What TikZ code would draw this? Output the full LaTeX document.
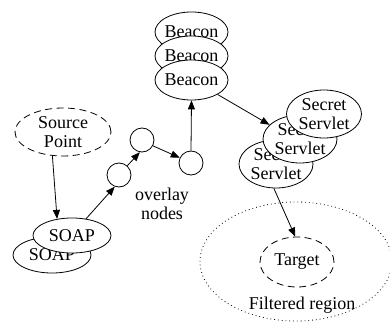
\documentclass[tikz,border=0pt]{standalone}
\usepackage{fontspec}
\setmainfont{Liberation Serif}
\usetikzlibrary{shapes.geometric,arrows.meta}
\begin{document}
\begin{tikzpicture}[x=1pt,y=-1pt,
  every node/.style={font=\fontsize{18}{19}\selectfont, align=center},
  ell/.style={ellipse, draw, fill=white, line width=0.8pt, inner sep=-30pt},
  dashell/.style={ellipse, draw, line width=0.8pt, dash pattern=on 7pt off 4.5pt, inner sep=-30pt},
  dotell/.style={ellipse, draw, line width=0.8pt, dash pattern=on 0.8pt off 3pt, inner sep=-60pt},
  circ/.style={circle, draw, fill=white, line width=0.8pt, minimum size=24pt, inner sep=0pt},
  conn/.style={draw, line width=0.8pt, -{Triangle[length=9pt,width=7pt]}},
  lbl/.style={inner sep=0pt}
]
\useasboundingbox (0,0) rectangle (390,323);
% filtered region and target
\node[dotell, minimum width=192pt, minimum height=119pt] (fr) at (296,261.5) {};
\node[lbl] (frl) at (302,305) {Filtered region};
\node[dashell, minimum width=74pt, minimum height=50pt] (tg) at (297,262) {Target};
% source point
\node[dashell, minimum width=96pt, minimum height=48pt] (sp) at (63,132) {Source\\Point};
% SOAP
\node[ell, minimum width=78pt, minimum height=36pt] (soapb) at (52,255) {SOAP};
\node[ell, minimum width=78pt, minimum height=35pt] (soapf) at (72,235.5) {SOAP};
% overlay circles
\node[circ] (c1) at (119,175) {};
\node[circ] (c2) at (142,140) {};
\node[circ] (c3) at (191,163) {};
\node[lbl] (ov) at (162,204) {overlay\\nodes};
% beacons
\node[ell, minimum width=73pt, minimum height=40pt] (bt) at (191.5,32) {Beacon};
\node[ell, minimum width=73pt, minimum height=40pt] (bm) at (191.5,56) {Beacon};
\node[ell, minimum width=73pt, minimum height=40pt] (bf) at (191.5,80) {Beacon};
% servlets
\node[ell, minimum width=74pt, minimum height=48pt] (sf) at (276,164) {Secret\\Servlet};
\node[ell, minimum width=74pt, minimum height=48pt] (sm) at (300,139) {Secret\\Servlet};
\node[ell, minimum width=75pt, minimum height=48pt] (st) at (324,114) {Secret\\Servlet};
% connectors
\draw[conn] (sp.246) -- (soapf.132);
\draw[conn] (soapf.50) -- (c1.250);
\draw[conn] (c1.48) -- (c2.260);
\draw[conn] (c2.332) -- (c3.155);
\draw[conn] (c3.north) -- (bf.south);
\draw[conn] (bf.331) -- (sm.155);
\draw[conn] (sf.265) -- (tg.94);
\end{tikzpicture}
\end{document}
